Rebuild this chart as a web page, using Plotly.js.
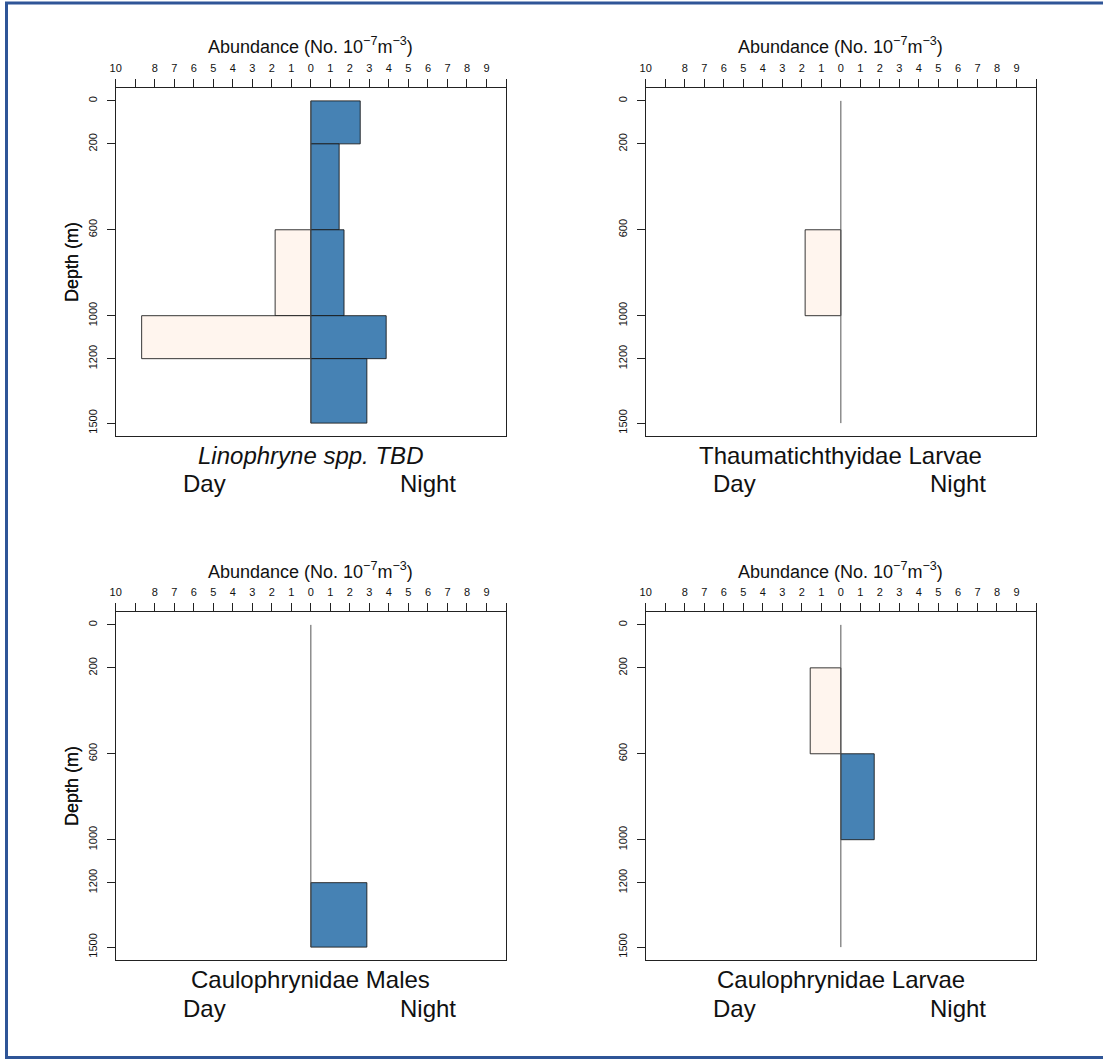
<!DOCTYPE html>
<html>
<head>
<meta charset="utf-8">
<script src="https://cdn.plot.ly/plotly-3.0.1.min.js"></script>
<style>html,body{margin:0;padding:0;background:#fff;}#chart{width:1103px;height:1059px;}</style>
</head>
<body>
<div id="chart"></div>
<script>
// ---- data ----
var depthTop = [0, 200, 600, 1000, 1200];
var depthBottom = [200, 600, 1000, 1200, 1500];
var depthTicks = [0, 200, 600, 1000, 1200, 1500];
// labelled abundance ticks (day side shown as positive numbers); every integer gets a tick mark
var abundanceTicks = [-10,-8,-7,-6,-5,-4,-3,-2,-1,0,1,2,3,4,5,6,7,8,9];
var abundanceTickText = ["10","8","7","6","5","4","3","2","1","0","1","2","3","4","5","6","7","8","9"];
var panelTitles = ["<i>Linophryne spp. TBD</i>", "Thaumatichthyidae Larvae", "Caulophrynidae Males", "Caulophrynidae Larvae"];
var linophryneDay   = [0, 0, 1.83, 8.67, 0];
var linophryneNight = [2.53, 1.45, 1.70, 3.86, 2.87];
var thaumDay   = [0, 0, 1.83, 0, 0];
var thaumNight = [0, 0, 0, 0, 0];
var caulMalesDay   = [0, 0, 0, 0, 0];
var caulMalesNight = [0, 0, 0, 0, 2.87];
var caulLarvaeDay   = [0, 1.57, 0, 0, 0];
var caulLarvaeNight = [0, 0, 1.71, 0, 0];

var dayValues = [linophryneDay, thaumDay, caulMalesDay, caulLarvaeDay];
var nightValues = [linophryneNight, thaumNight, caulMalesNight, caulLarvaeNight];

// ---- layout helpers (pixels) ----
var W = 1103, H = 1059;
var colX = [115.7, 645.7], boxW = 390.3;
var rowY = [88, 612], boxH = 348;
var FONT = "Liberation Sans, Arial, Helvetica, sans-serif";
function px(x){ return x / W; }
function py(y){ return 1 - y / H; }

var traces = [];
var layout = {
  width: W, height: H,
  margin: {l:0, r:0, t:0, b:0},
  paper_bgcolor: "#ffffff",
  plot_bgcolor: "#ffffff",
  showlegend: false,
  barmode: "overlay",
  font: {family: FONT, color: "#111"},
  annotations: [],
  shapes: [{
    type: "rect", xref: "paper", yref: "paper",
    x0: px(6.5), x1: px(1115), y0: py(1057.5), y1: py(3),
    line: {color: "#2F5597", width: 3}, fillcolor: "rgba(0,0,0,0)", layer: "above"
  }]
};

for (var p = 0; p < 4; p++) {
  var col = p % 2, row = Math.floor(p / 2);
  var x0 = colX[col], y0 = rowY[row];
  var xa = "xaxis" + (p === 0 ? "" : (p + 1));
  var ya = "yaxis" + (p === 0 ? "" : (p + 1));
  var xr = "x" + (p === 0 ? "" : (p + 1));
  var yr = "y" + (p === 0 ? "" : (p + 1));

  layout[xa] = {
    domain: [px(x0), px(x0 + boxW)],
    anchor: yr, side: "top",
    range: [-10, 10],
    tickmode: "array", tickvals: abundanceTicks, ticktext: abundanceTickText,
    ticks: "outside", ticklen: 8, tickwidth: 1, tickcolor: "#222",
    minor: {tick0: 0, dtick: 1, ticks: "outside", ticklen: 8, tickwidth: 1, tickcolor: "#222", showgrid: false},
    ticklabelstandoff: 3,
    tickfont: {size: 11, family: FONT, color: "#111"},
    showline: true, linecolor: "#222", linewidth: 1, mirror: true,
    showgrid: false, zeroline: false, fixedrange: true
  };
  layout[ya] = {
    domain: [py(y0 + boxH), py(y0)],
    anchor: xr,
    range: [1560, -60],
    tickmode: "array", tickvals: depthTicks, ticktext: depthTicks.map(String),
    ticks: "outside", ticklen: 8, tickwidth: 1, tickcolor: "#222",
    tickangle: -90, ticklabelstandoff: 5,
    tickfont: {size: 11, family: FONT, color: "#111"},
    showline: true, linecolor: "#222", linewidth: 1, mirror: true,
    showgrid: false, zeroline: false, fixedrange: true
  };

  // bars
  var series = [
    {vals: dayValues[p], sign: -1, color: "#FFF5EE", name: "Day"},
    {vals: nightValues[p], sign: 1, color: "#4682B4", name: "Night"}
  ];
  series.forEach(function(s){
    var xs = [], ys = [], ws = [];
    for (var i = 0; i < depthTop.length; i++) {
      if (s.vals[i] > 0) {
        xs.push(s.sign * s.vals[i]);
        ys.push((depthTop[i] + depthBottom[i]) / 2);
        ws.push(depthBottom[i] - depthTop[i]);
      }
    }
    traces.push({
      type: "bar", orientation: "h", name: s.name,
      x: xs, y: ys, width: ws, base: 0,
      xaxis: xr, yaxis: yr,
      marker: {color: s.color, line: {color: "rgba(20,20,20,0.85)", width: 1}},
      hoverinfo: "skip"
    });
  });
  // zero line
  traces.push({
    type: "scatter", mode: "lines",
    x: [0, 0], y: [depthTicks[0], depthTicks[depthTicks.length - 1]],
    xaxis: xr, yaxis: yr,
    line: {color: "#555", width: 1}, hoverinfo: "skip"
  });

  // texts
  layout.annotations.push({
    xref: "paper", yref: "paper", x: px(x0 + boxW / 2), y: py(y0 - 42),
    xanchor: "center", yanchor: "middle", showarrow: false,
    text: "Abundance (No. 10<sup>\u22127</sup>m<sup>\u22123</sup>)",
    font: {size: 18, family: FONT, color: "#111"}
  });
  layout.annotations.push({
    xref: "paper", yref: "paper", x: px(72), y: py(y0 + boxH / 2),
    xanchor: "center", yanchor: "middle", showarrow: false, textangle: -90,
    text: "Depth (m)", font: {size: 18, family: FONT, color: "#111"}
  });
  layout.annotations.push({
    xref: "paper", yref: "paper", x: px(x0 + boxW / 2), y: py(y0 + boxH + 19),
    xanchor: "center", yanchor: "middle", showarrow: false,
    text: panelTitles[p], font: {size: 24, family: FONT, color: "#111"}
  });
  layout.annotations.push({
    xref: "paper", yref: "paper", x: px(x0 + 89), y: py(y0 + boxH + 48),
    xanchor: "center", yanchor: "middle", showarrow: false,
    text: "Day", font: {size: 24, family: FONT, color: "#111"}
  });
  layout.annotations.push({
    xref: "paper", yref: "paper", x: px(x0 + 312), y: py(y0 + boxH + 48),
    xanchor: "center", yanchor: "middle", showarrow: false,
    text: "Night", font: {size: 24, family: FONT, color: "#111"}
  });
}

Plotly.newPlot("chart", traces, layout, {displayModeBar: false, staticPlot: true});
</script>
</body>
</html>
